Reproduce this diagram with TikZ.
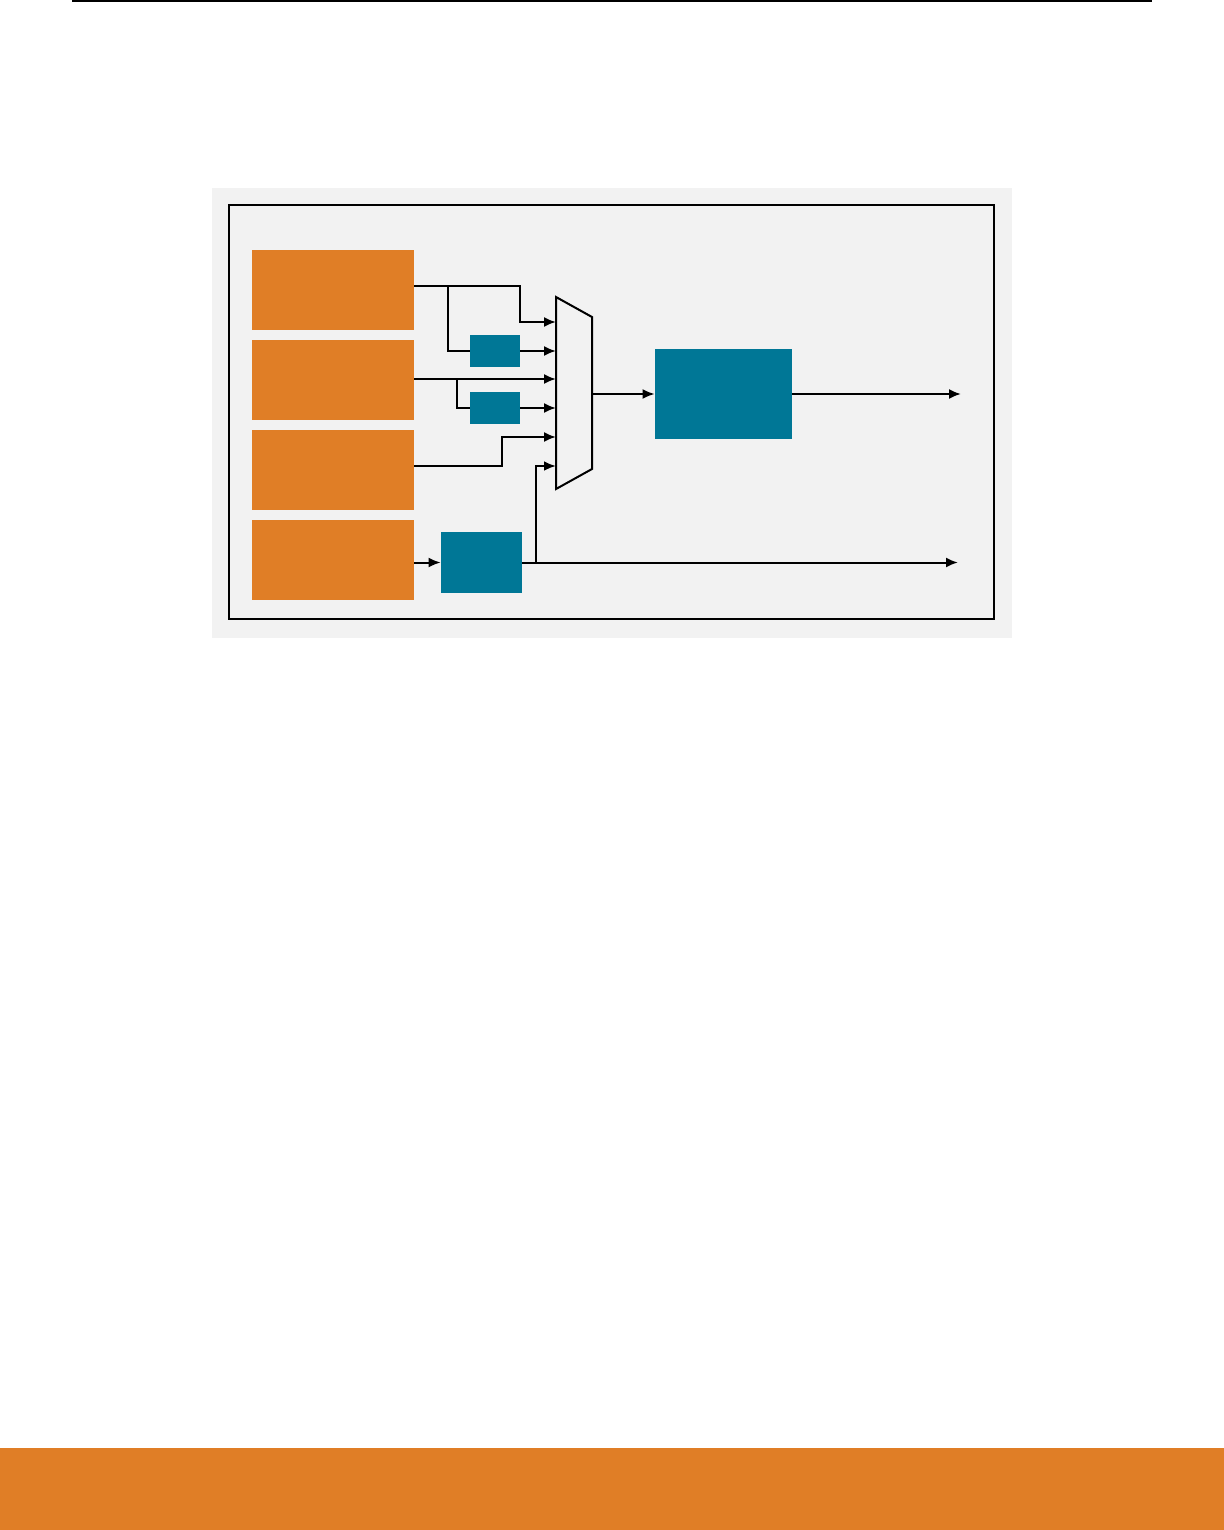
\documentclass[tikz,border=0pt]{standalone}
\usetikzlibrary{arrows.meta,calc}
\definecolor{brandorange}{RGB}{224,126,38}
\definecolor{brandteal}{RGB}{0,119,150}
\definecolor{panelgray}{RGB}{242,242,242}
\tikzset{
  orangebox/.style={fill=brandorange,draw=none,inner sep=0pt,minimum width=81pt,minimum height=40pt},
  tealbox/.style={fill=brandteal,draw=none,inner sep=0pt},
  wire/.style={line width=1pt,line join=miter},
  arr/.style={wire,-{Latex[length=6pt,width=5pt]}},
}
\begin{document}
\begin{tikzpicture}[x=0.5pt,y=-0.5pt]
\useasboundingbox (0,0) rectangle (1224,1530);
\fill[white] (0,0) rectangle (1224,1530);
% header rule and footer band
\draw[line width=0.8pt] (72,0.8) -- (1152,0.8);
\fill[brandorange] (0,1448) rectangle (1224,1530);
% panel
\fill[panelgray] (212,188) rectangle (1012,638);
\draw[line width=1.1pt] (229,205) rectangle (994,619);
% sources
\node[orangebox] (o1) at (333,290) {};
\node[orangebox] (o2) at (333,380) {};
\node[orangebox] (o3) at (333,470) {};
\node[orangebox] (o4) at (333,560) {};
% small blocks
\node[tealbox,minimum width=25pt,minimum height=16pt] (t1) at (495,351) {};
\node[tealbox,minimum width=25pt,minimum height=16pt] (t2) at (495,408) {};
\node[tealbox,minimum width=40.5pt,minimum height=30.5pt] (t3) at (481.5,562.5) {};
\node[tealbox,minimum width=68.5pt,minimum height=45pt] (big) at (723.5,394) {};
% multiplexer
\draw[wire] (556,297) -- (592,317) -- (592,469) -- (556,489) -- cycle;
\coordinate (m1) at (556,322);
\coordinate (m2) at (556,351);
\coordinate (m3) at (556,379);
\coordinate (m4) at (556,408);
\coordinate (m5) at (556,437);
\coordinate (m6) at (556,466);
\coordinate (mo) at (592,394);
% helper points
\coordinate (k1) at (520,322);
\coordinate (b1) at (448,286);
\coordinate (b2) at (457,379);
\coordinate (k3) at (502,437);
\coordinate (b3) at (536,562.5);
\coordinate (out1) at (961,394);
\coordinate (out2) at (958,562.5);
% connectors
\draw[arr] ([yshift=2pt]o1.east) -| (k1) -- (m1);
\draw[wire] (b1) |- (t1.west);
\draw[arr] (t1.east) -- (m2);
\draw[arr] (o2.east |- m3) -- (m3);
\draw[wire] (b2) |- (t2.west);
\draw[arr] (t2.east) -- (m4);
\draw[arr] ([yshift=2pt]o3.east) -| (k3) -- (m5);
\draw[arr] (o4.east |- t3.west) -- (t3.west);
\draw[arr] (t3.east) -- (out2);
\draw[arr,line width=1.3pt] (b3) |- (m6);
\draw[arr] (mo) -- (big.west);
\draw[arr] (big.east) -- (out1);
\end{tikzpicture}
\end{document}
